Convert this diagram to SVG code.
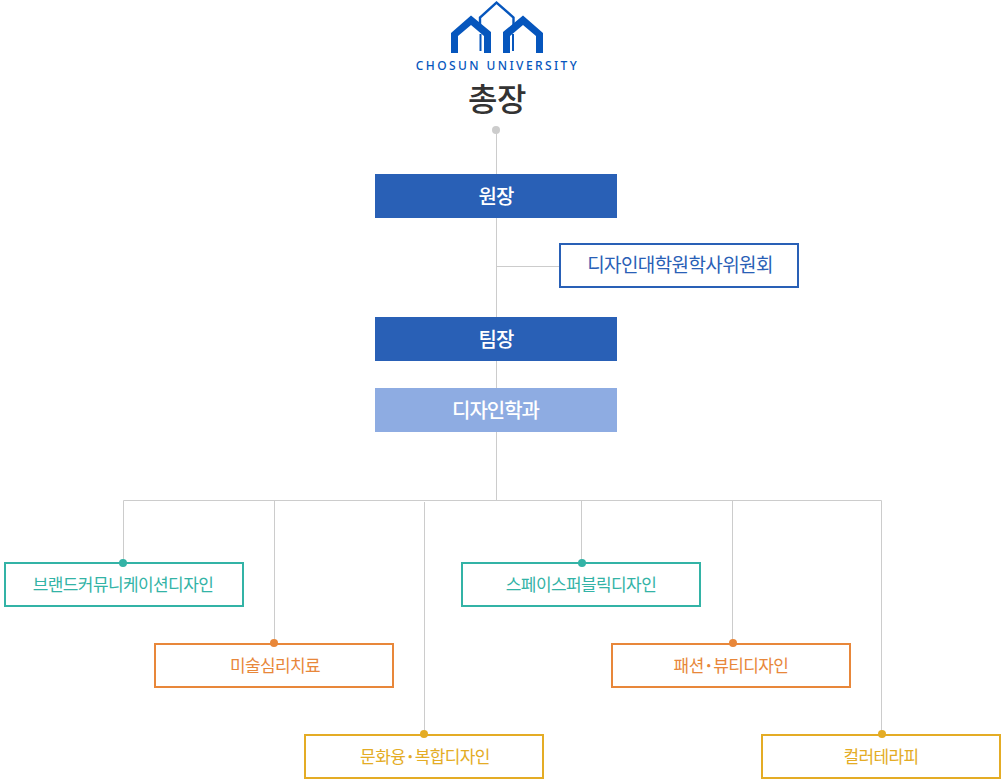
<svg xmlns="http://www.w3.org/2000/svg" width="1003" height="782" viewBox="0 0 1003 782">
<style>
text{font-family:"Noto Sans CJK KR","Noto Sans",sans-serif;text-anchor:middle;letter-spacing:-0.6px}
.c{stroke:#ccc;stroke-width:1;fill:none}
.b{fill:#fff;stroke-width:2}
.l{font-size:17px}
.m{font-size:20px;font-weight:500;fill:#fff;letter-spacing:-1px}
.logo{fill:#0656bd}
.dot{font-weight:700}
.teal{stroke:#33b3a6}.tealt{fill:#33b3a6}
.or{stroke:#e8873a}.ort{fill:#e8873a}
.ye{stroke:#e4ac25}.yet{fill:#e4ac25}
</style>
<g id="connectors">
<path class="c" d="M496.500 130V500.500M496.500 266.500H560M123.500 562V500.500H881.500V735M274.500 500.500V644M424.500 502V735M581.500 500.500V562M732.500 500.500V644"/>
</g>
<g id="president">
<path class="logo" d="M451 53V33L471 15.500L491 32V53H484V36L471 25L458 36V53Z"/>
<path class="logo" d="M503 53V32L523 15.500L543 33V53H536V36L523 25L510 36V53Z"/>
<path d="M480 26V17.500L496.500 2.500L513.500 17.500V26" fill="none" stroke="#0656bd" stroke-width="2.400"/>
<path d="M480.500 34V51M513 34V51" stroke="#0656bd" stroke-width="2"/>
<text x="497.500" y="70" font-size="12" font-weight="500" style="letter-spacing:2.400px;font-family:'Noto Sans',sans-serif" fill="#0656bd">CHOSUN UNIVERSITY</text>
<text x="497" y="111" font-size="32" font-weight="500" fill="#333" style="letter-spacing:-0.500px">총장</text>
<circle cx="496" cy="130" r="4" fill="#ccc"/>
</g>
<g id="director"><rect x="375" y="174" width="242" height="44" fill="#2960b6"/><text class="m" x="496" y="204">원장</text></g>
<g id="committee"><rect class="b" x="560" y="244" width="238" height="43" stroke="#2960b6"/><text x="680" y="272" fill="#2960b6" style="font-size:19px">디자인대학원학사위원회</text></g>
<g id="teamlead"><rect x="375" y="317" width="242" height="44" fill="#2960b6"/><text class="m" x="496" y="347">팀장</text></g>
<g id="department"><rect x="375" y="388" width="242" height="44" fill="#8eace2"/><text class="m" x="495.500" y="418">디자인학과</text></g>
<g id="brand"><rect class="b teal" x="5" y="563" width="238" height="43"/><circle class="tealt" cx="123" cy="563" r="4"/><text class="l tealt" x="123" y="591">브랜드커뮤니케이션디자인</text></g>
<g id="art"><rect class="b or" x="155" y="644" width="238" height="43"/><circle class="ort" cx="274" cy="643" r="4"/><text class="l ort" x="275" y="672">미술심리치료</text></g>
<g id="culture"><rect class="b ye" x="305" y="735" width="238" height="43"/><circle class="yet" cx="424" cy="734" r="4"/><text class="l yet" x="425" y="763">문화융<tspan class="dot">·</tspan>복합디자인</text></g>
<g id="space"><rect class="b teal" x="462" y="563" width="238" height="43"/><circle class="tealt" cx="582" cy="563" r="4"/><text class="l tealt" x="581" y="591">스페이스퍼블릭디자인</text></g>
<g id="fashion"><rect class="b or" x="612" y="644" width="238" height="43"/><circle class="ort" cx="733" cy="643" r="4"/><text class="l ort" x="731" y="672">패션<tspan class="dot">·</tspan>뷰티디자인</text></g>
<g id="color"><rect class="b ye" x="762" y="735" width="238" height="43"/><circle class="yet" cx="882" cy="734" r="4"/><text class="l yet" x="881" y="763">컬러테라피</text></g>
</svg>
